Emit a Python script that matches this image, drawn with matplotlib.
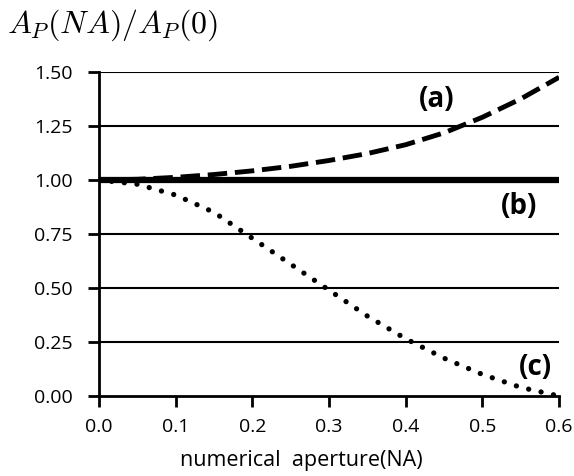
import numpy as np
import matplotlib.pyplot as plt

plt.rcParams['mathtext.fontset'] = 'cm'
plt.rcParams['font.family'] = ['Open Sans', 'DejaVu Sans']

na = [0.0, 0.05, 0.1, 0.15, 0.2, 0.25, 0.3, 0.35, 0.4, 0.45, 0.5, 0.55, 0.6]
curve_a = [1.0, 1.003, 1.012, 1.025, 1.042, 1.063, 1.09, 1.122, 1.163, 1.218, 1.29, 1.375, 1.475]
curve_b = [1.0] * len(na)
curve_c = [1.0, 0.98, 0.93, 0.85, 0.73, 0.61, 0.49, 0.37, 0.265, 0.175, 0.10, 0.04, 0.0]

yticks = [0, 0.25, 0.5, 0.75, 1.0, 1.25, 1.5]
xticks = [0, 0.1, 0.2, 0.3, 0.4, 0.5, 0.6]

fig = plt.figure(figsize=(5.74, 4.76), dpi=100)
ax = fig.add_axes([0.1725, 0.168, 0.8015, 0.681])

for yv in yticks[1:]:
    ax.axhline(yv, color='black', lw=1.5, zorder=1)

ax.plot(na, curve_b, color='black', lw=4.5, solid_capstyle='butt', zorder=3)
ax.plot(na, curve_a, color='black', lw=3.5, dashes=(4, 1.6), zorder=4)
ax.plot(na, curve_c, color='black', lw=3.8, linestyle=(0, (0.01, 2.4)),
        dash_capstyle='round', zorder=4)

ax.set_xlim(0, 0.6)
ax.set_ylim(0, 1.5)
ax.set_xticks(xticks)
ax.set_yticks(yticks)
ax.set_xticklabels(['%.1f' % v for v in xticks])
ax.set_yticklabels(['%.2f' % v for v in yticks])
ax.tick_params(axis='both', direction='out', length=8, width=2, labelsize=14)
ax.tick_params(axis='x', pad=8)
ax.tick_params(axis='y', pad=11)
for s in ['top', 'right']:
    ax.spines[s].set_visible(False)
for s in ['left', 'bottom']:
    ax.spines[s].set_linewidth(2)

ax.set_xlabel('numerical  aperture(NA)', fontsize=15.5)
ax.xaxis.set_label_coords(0.44, -0.165)

ax.text(0.441, 1.37, '(a)', fontsize=20, fontweight='bold', ha='center', va='center')
ax.text(0.548, 0.875, '(b)', fontsize=20, fontweight='bold', ha='center', va='center')
ax.text(0.569, 0.134, '(c)', fontsize=20, fontweight='bold', ha='center', va='center')

fig.text(0.012, 0.948, r'$A_P(NA)/A_P(0)$', fontsize=23, ha='left', va='center')

fig.savefig('out.png', dpi=100)
